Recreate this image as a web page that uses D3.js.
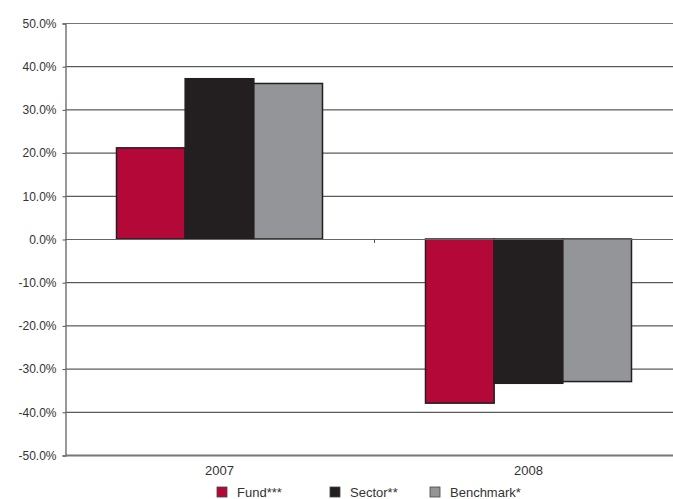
<!DOCTYPE html>
<html lang="en">
<head>
<meta charset="utf-8">
<title>Fund vs Sector vs Benchmark</title>
<script src="https://cdn.jsdelivr.net/npm/d3@7"></script>
<style>
  body { margin: 0; background: #fff; }
  text { font-family: "Liberation Sans", Arial, sans-serif; fill: #333; }
</style>
</head>
<body>
<script>
// data
var years = ["2007", "2008"];
var series = ["Fund***", "Sector**", "Benchmark*"];
var fund = [21.1, -38.0];
var sector = [37.1, -33.4];
var benchmark = [36.0, -33.0];
var colors = ["#b30838", "#231f20", "#939598"];
var yTicks = [50, 40, 30, 20, 10, 0, -10, -20, -30, -40, -50];

var w = 673, h = 499;
var plotLeft = 65, plotTop = 23, plotBottom = 455, plotRight = 683;

var values = [fund, sector, benchmark];
var rows = [];
years.forEach(function(yr, i) {
  series.forEach(function(s, j) {
    rows.push({ year: yr, series: s, value: values[j][i], color: colors[j] });
  });
});

var svg = d3.select("body").append("svg")
  .attr("width", w).attr("height", h);

var x = d3.scaleBand().domain(years).range([plotLeft, plotRight]);
var xInner = d3.scaleBand().domain(series)
  .range([x.bandwidth() / 6, x.bandwidth() * 5 / 6]);
var y = d3.scaleLinear().domain([-50, 50]).range([plotBottom, plotTop]);

// gridlines
svg.append("g").selectAll("line")
  .data(yTicks.filter(function(d) { return d !== -50 && d !== 0; }))
  .enter().append("line")
  .attr("x1", plotLeft).attr("x2", plotRight)
  .attr("y1", function(d) { return y(d) + 0.5; })
  .attr("y2", function(d) { return y(d) + 0.5; })
  .attr("stroke", function(d) { return d === 50 ? "#777" : "#333"; })
  .attr("stroke-width", 1);

// y axis
var yAxis = d3.axisLeft(y).tickValues(yTicks).tickSize(3).tickPadding(6)
  .tickFormat(function(d) { return d.toFixed(1) + "%"; });
var ya = svg.append("g").attr("transform", "translate(" + (plotLeft + 0.5) + ",0.5)").call(yAxis);
ya.select(".domain").attr("stroke", "#777").attr("stroke-width", 1.5);
ya.selectAll(".tick line").attr("stroke", "#555");
ya.selectAll("text").style("font-size", "12px").attr("fill", "#333");

// bars
svg.append("g").selectAll("rect")
  .data(rows).enter().append("rect")
  .attr("x", function(d) { return x(d.year) + xInner(d.series); })
  .attr("width", xInner.bandwidth())
  .attr("y", function(d) { return y(Math.max(0, d.value)); })
  .attr("height", function(d) { return Math.abs(y(d.value) - y(0)); })
  .attr("fill", function(d) { return d.color; })
  .attr("stroke", "#231f20")
  .attr("stroke-width", 1.5);

// zero line
svg.append("line")
  .attr("x1", plotLeft).attr("x2", plotRight)
  .attr("y1", y(0) + 0.5).attr("y2", y(0) + 0.5)
  .attr("stroke", "#666").attr("stroke-width", 1);

// zero-line tick between categories
svg.append("line")
  .attr("x1", x("2008") + 0.5).attr("x2", x("2008") + 0.5)
  .attr("y1", y(0)).attr("y2", y(0) + 4)
  .attr("stroke", "#555");

// bottom axis
var xAxis = d3.axisBottom(x).tickSize(0).tickPadding(11);
var xa = svg.append("g").attr("transform", "translate(0," + plotBottom + ")").call(xAxis);
xa.select(".domain").attr("stroke", "#777").attr("stroke-width", 2);
xa.selectAll("text").style("font-size", "13px").attr("fill", "#333");

// legend
var legendX = [217, 330, 430];
var lg = svg.append("g").selectAll("g")
  .data(series).enter().append("g")
  .attr("transform", function(d, i) { return "translate(" + legendX[i] + ",487)"; });
lg.append("rect")
  .attr("width", 10).attr("height", 10)
  .attr("fill", function(d, i) { return colors[i]; })
  .attr("stroke", "#444").attr("stroke-width", 0.8);
lg.append("text")
  .attr("x", 20).attr("y", 9.5)
  .style("font-size", "13px")
  .text(function(d) { return d; });
</script>
</body>
</html>
